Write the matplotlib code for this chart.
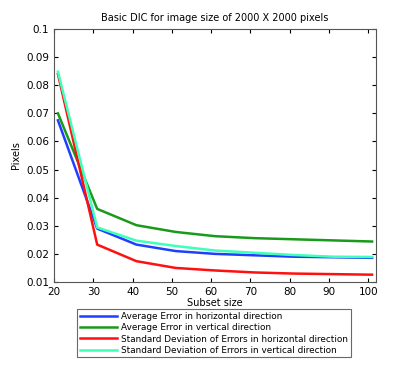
import matplotlib
matplotlib.use("Agg")
import matplotlib.pyplot as plt

subset = [21, 31, 41, 51, 61, 71, 81, 91, 101]
avg_h = [0.0675, 0.0290, 0.0233, 0.0210, 0.0200, 0.0195, 0.0190, 0.0188, 0.0186]
avg_v = [0.0700, 0.0360, 0.0302, 0.0278, 0.0263, 0.0256, 0.0252, 0.0248, 0.0244]
std_h = [0.0840, 0.0233, 0.0174, 0.0150, 0.0141, 0.0134, 0.0130, 0.0128, 0.0126]
std_v = [0.0848, 0.0294, 0.0247, 0.0228, 0.0212, 0.0204, 0.0196, 0.0190, 0.0189]

labels = ['Average Error in horizontal direction',
          'Average Error in vertical direction',
          'Standard Deviation of Errors in horizontal direction',
          'Standard Deviation of Errors in vertical direction']
colors = ['#1f3fff', '#1a9a1a', '#ff1010', '#40ffb8']

plt.rcParams['font.family'] = 'DejaVu Sans'
plt.rcParams['font.size'] = 7

fig = plt.figure(figsize=(4.15, 3.89), dpi=100)
ax = fig.add_axes([54 / 415, 1 - 282 / 389, 322 / 415, 253 / 389])

for ys, c, lab in zip([avg_h, avg_v, std_h, std_v], colors, labels):
    ax.plot(subset, ys, color=c, lw=1.8, label=lab)

ax.set_xlim(20, 102)
ax.set_ylim(0.01, 0.1)
ax.set_xticks(range(20, 101, 10))
ax.set_yticks([0.01, 0.02, 0.03, 0.04, 0.05, 0.06, 0.07, 0.08, 0.09, 0.1])
ax.set_yticklabels(['0.01', '0.02', '0.03', '0.04', '0.05', '0.06', '0.07',
                    '0.08', '0.09', '0.1'])
ax.tick_params(direction='in', top=True, right=True, length=3, labelsize=7.5)
for s in ax.spines.values():
    s.set_color('#555555')
ax.set_title('Basic DIC for image size of 2000 X 2000 pixels', fontsize=7, pad=6)
ax.set_xlabel('Subset size', fontsize=7, labelpad=1)
ax.set_ylabel('Pixels', fontsize=7, labelpad=4)

leg = ax.legend(loc='upper center', bbox_to_anchor=(214 / 415, 1 - 305 / 389),
                bbox_transform=fig.transFigure, fancybox=False, fontsize=6.4,
                handlelength=4.2, borderpad=0.3, labelspacing=0.25,
                handletextpad=0.5, edgecolor='#444444')
leg.get_frame().set_linewidth(0.8)

fig.savefig('out.png', dpi=100)
